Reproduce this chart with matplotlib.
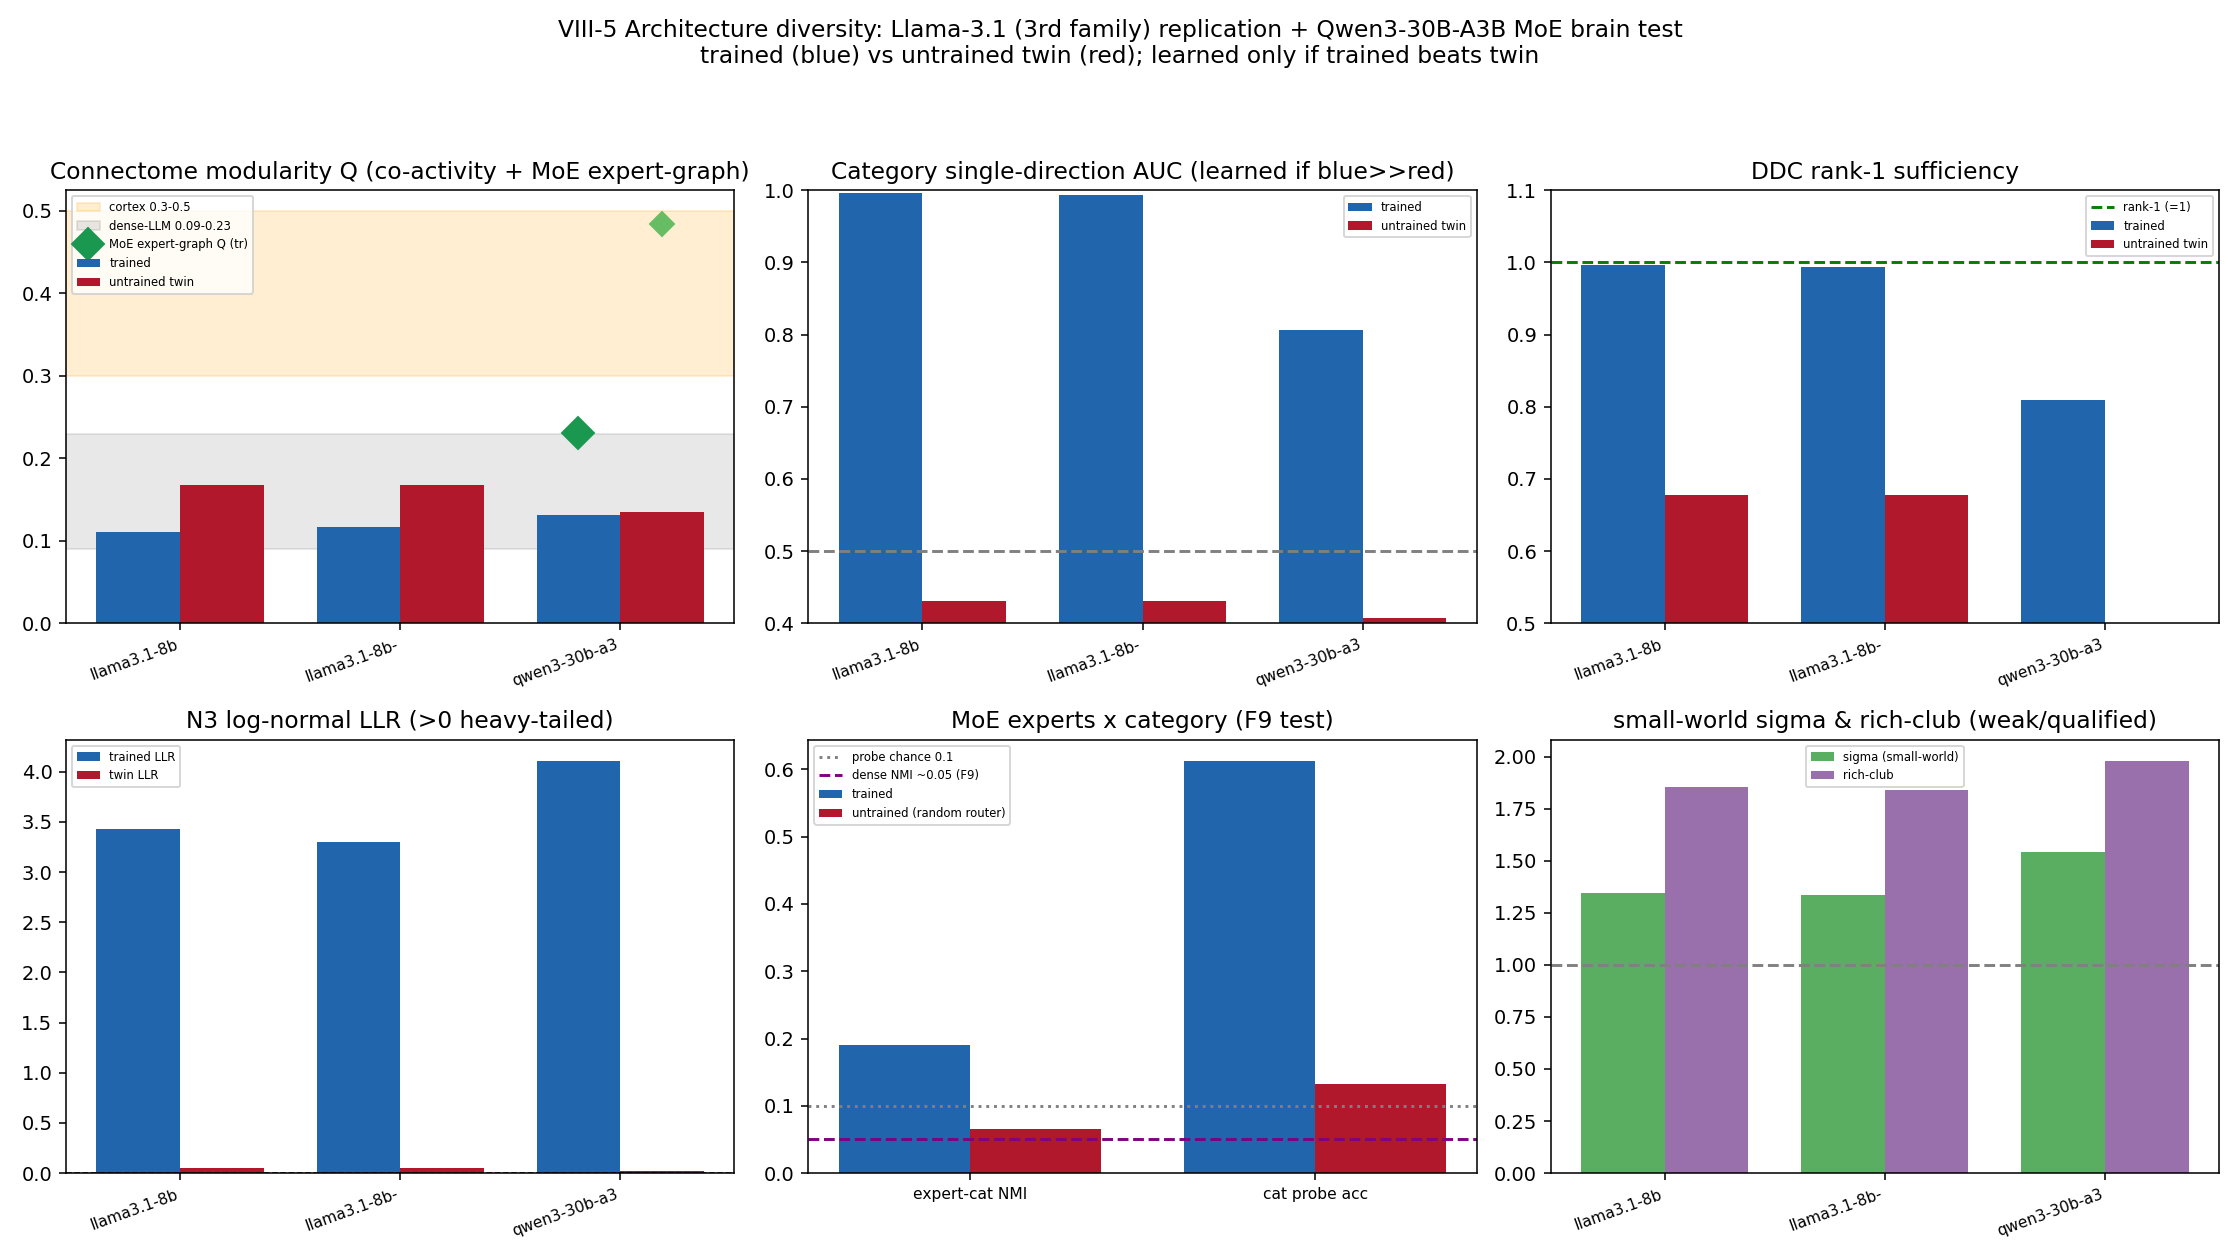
import numpy as np
import matplotlib
matplotlib.use("Agg")
import matplotlib.pyplot as plt

# ---- data ----
models = ["llama3.1-8b", "llama3.1-8b-", "qwen3-30b-a3"]

mod_trained = [0.111, 0.117, 0.131]
mod_twin = [0.167, 0.167, 0.135]
moe_q_trained = 0.231
moe_q_twin = 0.484

auc_trained = [0.996, 0.994, 0.806]
auc_twin = [0.431, 0.431, 0.407]

ddc_trained = [0.996, 0.994, 0.810]
ddc_twin = [0.677, 0.677, np.nan]

llr_trained = [3.43, 3.30, 4.11]
llr_twin = [0.053, 0.053, 0.023]

moe_cats = ["expert-cat NMI", "cat probe acc"]
moe_trained = [0.191, 0.613]
moe_untrained = [0.066, 0.132]

sigma_vals = [1.347, 1.336, 1.544]
richclub_vals = [1.857, 1.842, 1.981]

BLUE = "#2166ac"
RED = "#b2182b"
W = 0.38
LFS = 6

fig, axes = plt.subplots(2, 3, figsize=(16, 9), dpi=140)
fig.subplots_adjust(left=0.0295, right=0.9906, top=0.849, bottom=0.069,
                    wspace=0.111, hspace=0.27)
fig.suptitle("VIII-5 Architecture diversity: Llama-3.1 (3rd family) replication + Qwen3-30B-A3B MoE brain test\n"
             "trained (blue) vs untrained twin (red); learned only if trained beats twin",
             fontsize=12, y=0.985)

x = np.arange(len(models))

def xt(ax):
    ax.set_xticks(x)
    ax.set_xticklabels(models, rotation=20, ha="right", fontsize=8)

# Panel 1
ax = axes[0, 0]
h1 = ax.axhspan(0.3, 0.5, color="orange", alpha=0.18, label="cortex 0.3-0.5")
h2 = ax.axhspan(0.09, 0.23, color="gray", alpha=0.18, label="dense-LLM 0.09-0.23")
h4 = ax.bar(x - W / 2, mod_trained, W, color=BLUE, label="trained")
h5 = ax.bar(x + W / 2, mod_twin, W, color=RED, label="untrained twin")
h3, = ax.plot([x[2] - W / 2], [moe_q_trained], "D", color="#1a9850", ms=12,
              ls="none", label="MoE expert-graph Q (tr)")
ax.plot([x[2] + W / 2], [moe_q_twin], "D", color="#66bd63", ms=9, ls="none")
ax.legend(handles=[h1, h2, h3, h4, h5], fontsize=LFS, loc="upper left")
ax.set_title("Connectome modularity Q (co-activity + MoE expert-graph)")
xt(ax)
ref_xlim = ax.get_xlim()

# Panel 2
ax = axes[0, 1]
b1 = ax.bar(x - W / 2, auc_trained, W, color=BLUE, label="trained")
b2 = ax.bar(x + W / 2, auc_twin, W, color=RED, label="untrained twin")
ax.axhline(0.5, color="gray", ls="--")
ax.set_ylim(0.4, 1.0)
ax.legend(handles=[b1, b2], fontsize=LFS, loc="upper right")
ax.set_title("Category single-direction AUC (learned if blue>>red)")
xt(ax)

# Panel 3
ax = axes[0, 2]
b1 = ax.bar(x - W / 2, ddc_trained, W, color=BLUE, label="trained")
b2 = ax.bar(x + W / 2, ddc_twin, W, color=RED, label="untrained twin")
l1 = ax.axhline(1.0, color="green", ls="--", label="rank-1 (=1)")
ax.set_ylim(0.5, 1.1)
ax.set_xlim(ref_xlim)
ax.legend(handles=[l1, b1, b2], fontsize=LFS, loc="upper right")
ax.set_title("DDC rank-1 sufficiency")
xt(ax)

# Panel 4
ax = axes[1, 0]
b1 = ax.bar(x - W / 2, llr_trained, W, color=BLUE, label="trained LLR")
b2 = ax.bar(x + W / 2, llr_twin, W, color=RED, label="twin LLR")
ax.axhline(0, color="k", ls="--", lw=0.8)
ax.legend(handles=[b1, b2], fontsize=LFS, loc="upper left")
ax.set_title("N3 log-normal LLR (>0 heavy-tailed)")
xt(ax)

# Panel 5
ax = axes[1, 1]
x2 = np.arange(len(moe_cats))
b1 = ax.bar(x2 - W / 2, moe_trained, W, color=BLUE, label="trained")
b2 = ax.bar(x2 + W / 2, moe_untrained, W, color=RED, label="untrained (random router)")
l1 = ax.axhline(0.1, color="gray", ls=":", label="probe chance 0.1")
l2 = ax.axhline(0.05, color="purple", ls="--", label="dense NMI ~0.05 (F9)")
ax.legend(handles=[l1, l2, b1, b2], fontsize=LFS, loc="upper left")
ax.set_xticks(x2)
ax.set_xticklabels(moe_cats, fontsize=8)
ax.set_title("MoE experts x category (F9 test)")

# Panel 6
ax = axes[1, 2]
b1 = ax.bar(x - W / 2, sigma_vals, W, color="#5aae61", label="sigma (small-world)")
b2 = ax.bar(x + W / 2, richclub_vals, W, color="#9970ab", label="rich-club")
ax.axhline(1.0, color="gray", ls="--")
ax.legend(handles=[b1, b2], fontsize=LFS, loc="upper center")
ax.set_title("small-world sigma & rich-club (weak/qualified)")
xt(ax)

fig.savefig("out.png", dpi=140)
